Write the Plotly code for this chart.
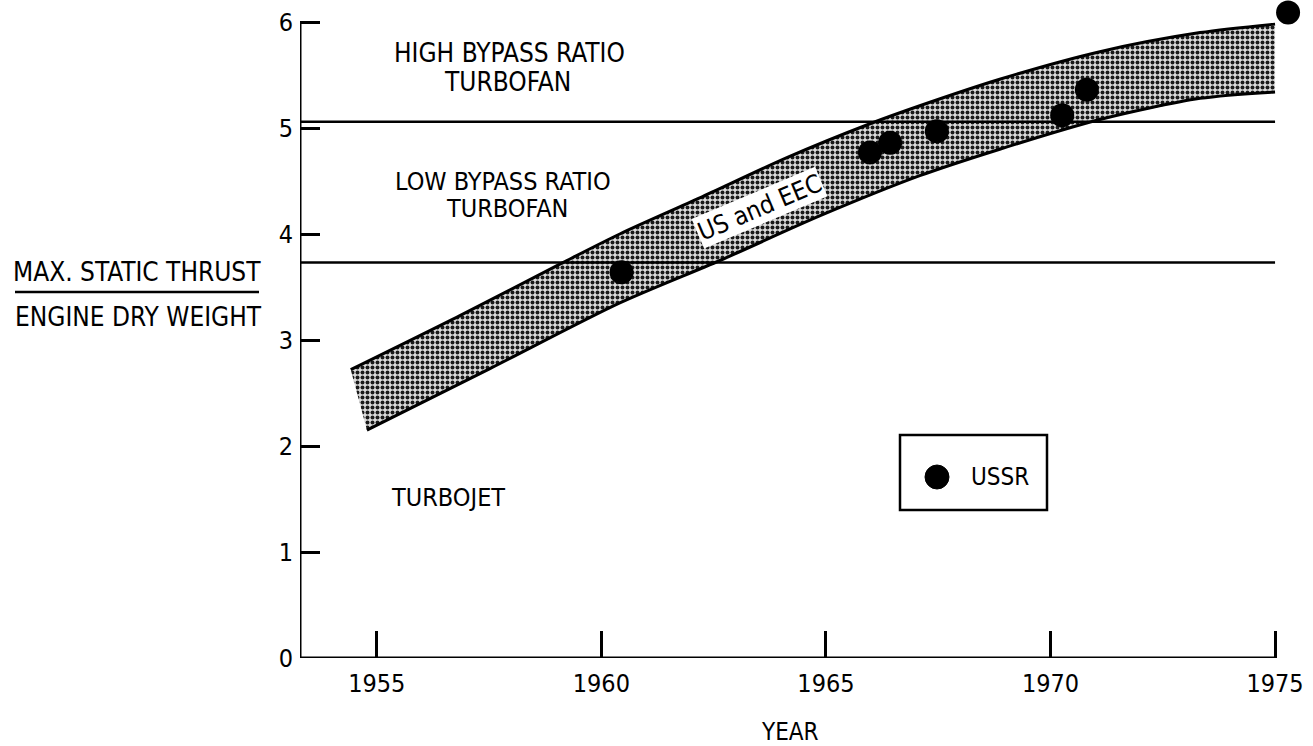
import plotly.graph_objects as go

# ---- data ----
band_upper_years = [1954.42, 1956.85, 1959.14, 1960.41, 1962.19, 1964.13, 1965.98, 1967.09, 1968.87, 1971.10, 1973.33, 1975.0]
band_upper_vals = [2.72, 3.23, 3.73, 4.00, 4.34, 4.72, 5.04, 5.21, 5.46, 5.72, 5.90, 5.98]
band_lower_years = [1954.78, 1957.52, 1960.41, 1962.64, 1964.86, 1967.09, 1968.87, 1971.10, 1973.33, 1975.0]
band_lower_vals = [2.15, 2.73, 3.35, 3.75, 4.17, 4.55, 4.80, 5.08, 5.28, 5.34]

ussr_years = [1960.45, 1965.98, 1966.43, 1967.47, 1970.26, 1970.81, 1975.29]
ussr_vals = [3.64, 4.77, 4.86, 4.97, 5.12, 5.36, 6.09]

boundary_low_high = 5.06   # low / high bypass ratio boundary
boundary_jet_low = 3.73    # turbojet / low bypass boundary

x_ticks = [1955, 1960, 1965, 1970, 1975]
x_tick_text = ["1955", "1960", "1965", "1970", "1975"]
y_ticks = [0, 1, 2, 3, 4, 5, 6]

X_MIN, X_END = 1953.29, 1975.0      # drawn extent of the x axis
Y_MIN, Y_END = 0, 6                 # drawn extent of the y axis
X_RANGE = [X_MIN, 1975.6]           # room for the 1975 point
Y_RANGE = [Y_MIN, 6.2075]

FONT = "DejaVu Sans Condensed, Liberation Sans Narrow, Arial Narrow, sans-serif"

# plot area in pixels
W, H = 1313, 746
L, R, T, B = 300, 1302, 0, 658

def px(x):
    return (x - L) / (R - L)

def py(y):
    return (B - y) / (B - T)

fig = go.Figure()

# stippled band
fig.add_trace(go.Scatter(
    x=band_upper_years + band_lower_years[::-1],
    y=band_upper_vals + band_lower_vals[::-1],
    mode="none", fill="toself",
    fillcolor="#b0b0b0",
    fillpattern=dict(shape=".", size=5, solidity=0.5, fgcolor="#1a1a1a", bgcolor="#dcdcdc", fillmode="replace"),
    hoverinfo="skip", showlegend=False,
))
for xs, ys in ((band_upper_years, band_upper_vals), (band_lower_years, band_lower_vals)):
    fig.add_trace(go.Scatter(x=xs, y=ys, mode="lines",
                             line=dict(color="black", width=3, shape="spline", smoothing=0.8),
                             showlegend=False, hoverinfo="skip"))

# region boundaries
for b in (boundary_low_high, boundary_jet_low):
    fig.add_trace(go.Scatter(x=[X_MIN, X_END], y=[b, b], mode="lines",
                             line=dict(color="black", width=2.5),
                             showlegend=False, hoverinfo="skip"))

# USSR points
fig.add_trace(go.Scatter(x=ussr_years, y=ussr_vals, mode="markers", name="USSR",
                         marker=dict(color="black", size=24), cliponaxis=False,
                         showlegend=False))

annotations = []
def txt(x, y, s, size=25, **kw):
    d = dict(x=x, y=y, text=s, showarrow=False, xanchor="center", yanchor="middle",
             font=dict(family=FONT, size=size, color="black"))
    d.update(kw)
    annotations.append(d)

txt(1957.95, 5.71, "HIGH BYPASS RATIO", size=26)
txt(1957.90, 5.43, "TURBOFAN", size=26)
txt(1957.80, 4.50, "LOW BYPASS RATIO", size=25)
txt(1957.90, 4.24, "TURBOFAN", size=25)
txt(1956.58, 1.51, "TURBOJET")
txt(1963.53, 4.25, "US and EEC", textangle=-23, bgcolor="white", borderpad=1)

# axis titles and legend text
txt(px(137), py(272), "MAX. STATIC THRUST", size=26, xref="paper", yref="paper")
txt(px(138), py(317), "ENGINE DRY WEIGHT", size=26, xref="paper", yref="paper")
txt(px(790), py(732), "YEAR", size=24, xref="paper", yref="paper")
txt(px(1000), py(477), "USSR", size=24, xref="paper", yref="paper")

shapes = [
    # axis lines (drawn only over the labelled extent)
    dict(type="line", xref="x", yref="y", x0=X_MIN, x1=X_END, y0=Y_MIN, y1=Y_MIN,
         line=dict(color="black", width=3)),
    dict(type="line", xref="x", yref="y", x0=X_MIN, x1=X_MIN, y0=Y_MIN, y1=Y_END,
         line=dict(color="black", width=3)),
    # fraction bar of the y title
    dict(type="line", xref="paper", yref="paper", x0=px(15), x1=px(259), y0=py(292), y1=py(292),
         line=dict(color="black", width=2.5)),
    # legend box
    dict(type="rect", xref="paper", yref="paper", x0=px(900), x1=px(1047), y0=py(435), y1=py(510),
         line=dict(color="black", width=2.5)),
    dict(type="circle", xref="paper", yref="paper", x0=px(925), x1=px(949), y0=py(465), y1=py(489),
         fillcolor="black", line=dict(color="black", width=1)),
]

fig.update_layout(
    width=W, height=H,
    margin=dict(l=L, r=W - R, t=T, b=H - B),
    paper_bgcolor="white", plot_bgcolor="white",
    font=dict(family=FONT, size=25, color="black"),
    annotations=annotations, shapes=shapes,
    showlegend=False,
    xaxis=dict(range=X_RANGE, tickvals=x_ticks, ticktext=x_tick_text,
               ticks="inside", ticklen=27, tickwidth=3, tickcolor="black",
               showline=False, showgrid=False, zeroline=False, ticklabelstandoff=8,
               tickfont=dict(family=FONT, size=25)),
    yaxis=dict(range=Y_RANGE, tickvals=y_ticks,
               ticks="inside", ticklen=20, tickwidth=2.5, tickcolor="black",
               showline=False, showgrid=False, zeroline=False, ticklabelstandoff=6,
               tickfont=dict(family=FONT, size=25)),
)

fig.write_html("out.html")
